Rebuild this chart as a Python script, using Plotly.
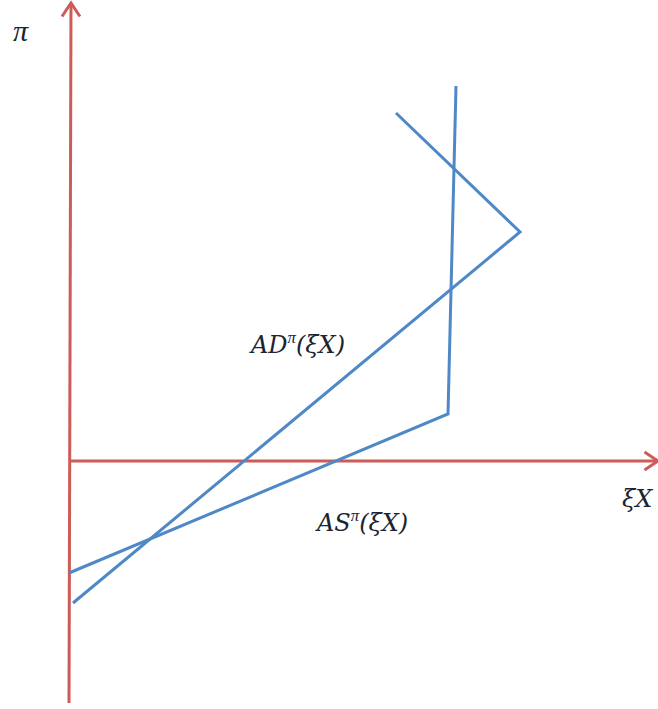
import plotly.graph_objects as go

# everything is drawn in a pixel-like coordinate frame (y grows downward)
W, H = 658, 709

# axes: start -> tip
pi_axis_x = [69, 71]
pi_axis_y = [703, 3]
xi_axis_x = [70, 658]
xi_axis_y = [461, 461]

# aggregate demand curve (with the kink)
ad_x = [73, 520, 396]
ad_y = [603, 232, 113]

# aggregate supply curve
as_x = [69, 448, 456]
as_y = [573, 414, 86]

PI = "<span style='font-family:Liberation Serif'>π</span>"
labels = ["<i><span style='font-family:Liberation Serif;font-size:30px'>π</span></i>",
          "<i>AD<sup>" + PI + "</sup>(ξX)</i>",
          "<i>AS<sup>" + PI + "</sup>(ξX)</i>",
          "<i>ξX</i>"]
label_x = [21, 297, 361, 637]
label_y = [30, 343, 521, 499]

red = "#cd5b58"
blue = "#4f88c6"


def chevron(xs, ys, size=9):
    # open arrow head at the end of the segment xs/ys
    dx, dy = xs[1] - xs[0], ys[1] - ys[0]
    n = (dx * dx + dy * dy) ** 0.5
    ux, uy = dx / n, dy / n
    px, py = -uy, ux
    tx, ty = xs[1], ys[1]
    bx, by = tx - ux * size * 1.5, ty - uy * size * 1.5
    return ([bx + px * size, tx, bx - px * size],
            [by + py * size, ty, by - py * size])


fig = go.Figure()

for xs, ys in [(pi_axis_x, pi_axis_y), (xi_axis_x, xi_axis_y)]:
    fig.add_trace(go.Scatter(x=xs, y=ys, mode="lines",
                             line=dict(color=red, width=3), hoverinfo="skip"))
    cx, cy = chevron(xs, ys)
    fig.add_trace(go.Scatter(x=cx, y=cy, mode="lines",
                             line=dict(color=red, width=3), hoverinfo="skip"))

fig.add_trace(go.Scatter(x=ad_x, y=ad_y, mode="lines",
                         line=dict(color=blue, width=3), hoverinfo="skip"))
fig.add_trace(go.Scatter(x=as_x, y=as_y, mode="lines",
                         line=dict(color=blue, width=3), hoverinfo="skip"))

for t, x, y in zip(labels, label_x, label_y):
    fig.add_annotation(x=x, y=y, text=t, showarrow=False,
                       font=dict(family="DejaVu Serif", size=24, color="#1c2433"))

fig.update_layout(
    width=W, height=H,
    margin=dict(l=0, r=0, t=0, b=0),
    showlegend=False,
    plot_bgcolor="white", paper_bgcolor="white",
    xaxis=dict(range=[0, W], visible=False, fixedrange=True),
    yaxis=dict(range=[H, 0], visible=False, fixedrange=True),
)

# drop the default page margin so the figure sits flush in the window
fig.write_html("out.html", config={"displayModeBar": False},
               post_script="document.body.style.margin='0';")
